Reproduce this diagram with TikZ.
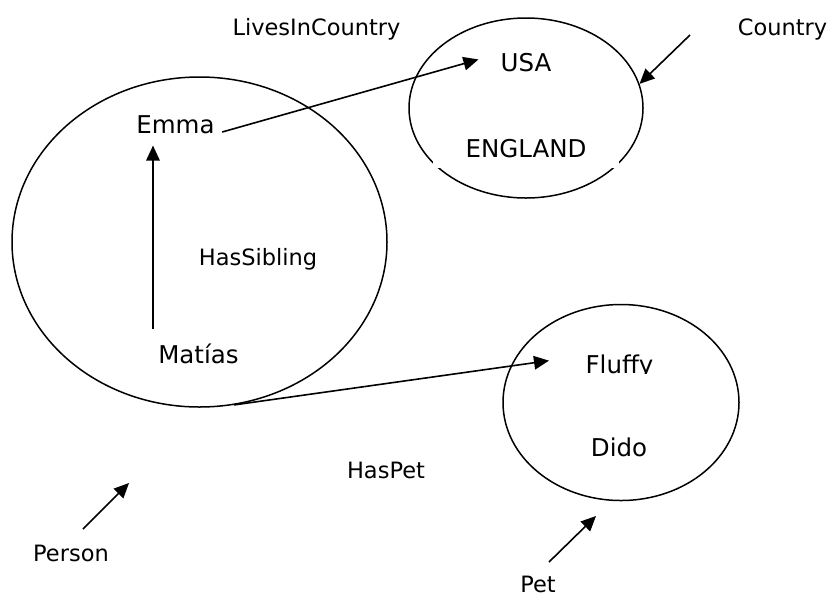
\documentclass[tikz,border=0pt]{standalone}
\usepackage{fontspec}
\setmainfont{DejaVu Sans}
\usetikzlibrary{arrows.meta,shapes.geometric}
\begin{document}
\begin{tikzpicture}[x=1pt,y=-1pt,
  setshape/.style={draw, ellipse, line width=1.5pt, inner sep=0pt},
  member/.style={font=\fontsize{24.5}{29}\selectfont, anchor=base, inner sep=3pt},
  reltext/.style={font=\fontsize{22.5}{27}\selectfont, anchor=base, inner sep=3pt},
  arr/.style={-{Triangle[length=15pt,width=13.5pt]}, line width=1.6pt}]
\useasboundingbox (0,0) rectangle (832,598);

% the three sets
\node[setshape, minimum width=375pt, minimum height=330pt] (person) at (199.5,242) {};
\node[setshape, minimum width=234pt, minimum height=180pt] (country) at (526,108) {};
\node[setshape, minimum width=236pt, minimum height=196pt] (pet) at (621,402.5) {};

% members
\node[member] (emma) at (175.5,133) {Emma};
\node[member] (matias) at (198.5,363) {Matías};
\node[member] (usa) at (526,71.5) {USA};
\node[member, fill=white, inner xsep=33pt, inner ysep=11pt] (england) at (526,157) {ENGLAND};
\begin{scope}
  \clip (560,330) rectangle (680,373);
  \node[member] (fluffy) at (619.5,373) {Fluffy};
\end{scope}
\node[member] (dido) at (619,456) {Dido};

% relation and set names
\node[reltext] (lives) at (316.5,35.5) {LivesInCountry};
\node[reltext] (sibling) at (258,265) {HasSibling};
\node[reltext] (haspet) at (386,478) {HasPet};
\node[reltext] (countrylbl) at (782.5,35) {Country};
\node[reltext] (personlbl) at (71,561) {Person};
\node[reltext] (petlbl) at (538,592) {Pet};

% relations
\draw[arr] ([xshift=4.4pt,yshift=1pt]emma.base east) -- ([xshift=-19pt,yshift=3.1pt]usa.west);
\draw[arr] ([xshift=-45.5pt,yshift=11.4pt]matias.north) -- ([xshift=-22.5pt,yshift=-9pt]emma.south);
\draw[arr] (person.-78.7) -- ([xshift=-33.4pt,yshift=5.6pt]fluffy.west);

% pointers from the set names
\coordinate (countryTail) at (690,35);
\coordinate (personTail) at (83,529);
\coordinate (personTip) at (129,483);
\coordinate (petTail) at (549,562);
\coordinate (petTip) at (596,516);
\draw[arr] (countryTail) -- (country.12.5);
\draw[arr] (personTail) -- (personTip);
\draw[arr] (petTail) -- (petTip);
\end{tikzpicture}
\end{document}
